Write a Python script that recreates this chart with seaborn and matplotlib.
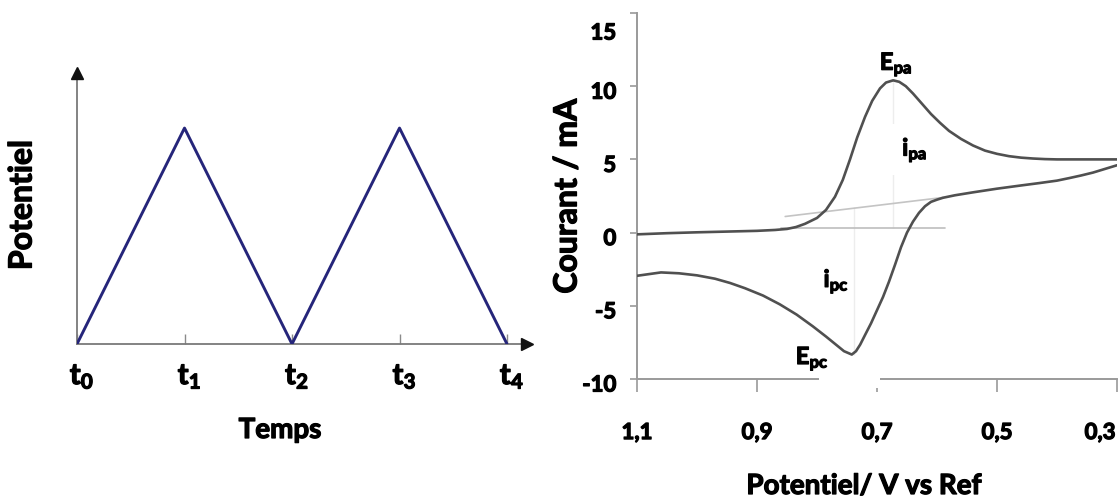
import numpy as np
import pandas as pd
import matplotlib
matplotlib.use("Agg")
import matplotlib.pyplot as plt
import matplotlib.transforms as mtransforms
import matplotlib.patheffects as pe
from matplotlib.patches import Rectangle
import seaborn as sns

# ---------------- data: left panel (triangular potential sweep) ----------------
sweep_times = [0, 1, 2, 3, 4]
sweep_potential = [0, 1, 0, 1, 0]
sweep_tick_labels = [r'$\mathbf{t_0}$', r'$\mathbf{t_1}$', r'$\mathbf{t_2}$',
                     r'$\mathbf{t_3}$', r'$\mathbf{t_4}$']

# ---------------- data: right panel (cyclic voltammogram) ----------------
forward_V = [1.10, 1.05, 1.00, 0.95, 0.90, 0.87, 0.85, 0.835, 0.82, 0.81, 0.80,
             0.785, 0.77, 0.757, 0.745, 0.733, 0.72, 0.708, 0.695, 0.685, 0.673,
             0.663, 0.652, 0.64, 0.625, 0.61, 0.595, 0.58, 0.56, 0.54, 0.52,
             0.50, 0.48, 0.46, 0.44, 0.42, 0.40, 0.35, 0.30]
forward_I = [-0.12, -0.04, 0.02, 0.07, 0.12, 0.18, 0.25, 0.38, 0.6, 0.8, 1.0,
             1.55, 2.45, 3.6, 5.0, 6.5, 7.9, 9.0, 9.85, 10.25, 10.4,
             10.3, 10.0, 9.5, 8.8, 8.1, 7.5, 6.95, 6.4, 5.95, 5.6,
             5.38, 5.22, 5.12, 5.06, 5.02, 5.0, 5.0, 5.0]
reverse_V = [0.30, 0.32, 0.34, 0.36, 0.38, 0.40, 0.43, 0.46, 0.50, 0.54, 0.57,
             0.59, 0.60, 0.61, 0.62, 0.63, 0.64, 0.65, 0.66, 0.67, 0.68, 0.69,
             0.70, 0.71, 0.72, 0.728, 0.735, 0.742, 0.755, 0.767, 0.785, 0.807,
             0.834, 0.862, 0.89, 0.92, 0.945, 0.97, 1.00, 1.03, 1.06, 1.10]
reverse_I = [4.6, 4.35, 4.1, 3.9, 3.72, 3.55, 3.38, 3.22, 3.0, 2.75, 2.55,
             2.38, 2.25, 2.1, 1.8, 1.35, 0.75, 0.0, -1.0, -2.2, -3.35, -4.4,
             -5.3, -6.2, -7.0, -7.65, -8.1, -8.33, -8.1, -7.7, -7.1, -6.4,
             -5.6, -4.9, -4.3, -3.8, -3.44, -3.15, -2.92, -2.78, -2.72, -2.95]

baseline_flat_V = [0.86, 0.587]
baseline_flat_I = [0.3, 0.3]
baseline_slope_V = [0.853, 0.59]
baseline_slope_I = [1.1, 2.4]
epa_line_V = [0.673, 0.673]
epa_line_I = [0.3, 10.4]
epc_line_V = [0.739, 0.739]
epc_line_I = [1.75, -8.33]

cv_x_ticks = [1.1, 0.9, 0.7, 0.5, 0.3]
cv_x_tick_labels = ['1,1', '0,9', '0,7', '0,5', '0,3']
cv_y_ticks = [-10, -5, 0, 5, 10, 15]
cv_y_tick_labels = ['-10', '-5', '0', '5', '10', '15']

peak_labels = [r'$\mathbf{E_{pa}}$', r'$\mathbf{i_{pa}}$', r'$\mathbf{i_{pc}}$', r'$\mathbf{E_{pc}}$']
peak_label_V = [0.668, 0.637, 0.768, 0.808]
peak_label_I = [11.5, 5.67, -3.3, -8.6]

# ---------------- style ----------------
sns.set_theme(style='white')
plt.rcParams['font.family'] = ['Lato', 'DejaVu Sans']
plt.rcParams['font.weight'] = 'bold'
plt.rcParams['mathtext.fontset'] = 'custom'
plt.rcParams['mathtext.bf'] = 'Lato:bold'
plt.rcParams['mathtext.rm'] = 'Lato:bold'
plt.rcParams['mathtext.it'] = 'Lato:bold'

W, H = 1119, 501
fig = plt.figure(figsize=(W / 100, H / 100), dpi=100)
fig.patch.set_facecolor('white')

def px_axes(l, t, r, b):
    return fig.add_axes([l / W, 1 - b / H, (r - l) / W, (b - t) / H])

# ---------------- left panel ----------------
axL = px_axes(77, 73, 527, 344)
sweep_df = pd.DataFrame({'t': sweep_times, 'E': sweep_potential})
sns.lineplot(data=sweep_df, x='t', y='E', ax=axL, color='#25257a', lw=2.1, sort=False)
axL.set_xlim(0, 4.186)
axL.set_ylim(0, 1.255)
for s in ['top', 'right']:
    axL.spines[s].set_visible(False)
for s in ['left', 'bottom']:
    axL.spines[s].set_color('#7a7a7a')
    axL.spines[s].set_linewidth(1.3)
    axL.spines[s].set_zorder(1)
axL.plot(1, 0, marker='>', color='#111111', ms=8, transform=axL.get_yaxis_transform(), clip_on=False)
axL.plot(0, 1, marker='^', color='#111111', ms=8, transform=axL.get_xaxis_transform(), clip_on=False)
axL.set_xticks(sweep_times)
axL.set_xticklabels(sweep_tick_labels)
axL.set_yticks([])
axL.tick_params(axis='x', bottom=True, direction='in', length=7, width=1.0, color='#8a8a8a',
                pad=13, labelsize=21, labelcolor='black')
axL.set_xlabel('')
axL.set_ylabel('')
offL = mtransforms.ScaledTranslation(5 / 100, 0, fig.dpi_scale_trans)
for lab in axL.get_xticklabels():
    lab.set_transform(lab.get_transform() + offL)

fig.text(22 / W, 1 - 205 / H, 'Potentiel', rotation=90, ha='center', va='center',
         fontsize=23, fontweight='bold', color='black')
fig.text(280 / W, 1 - 430 / H, 'Temps', ha='center', va='center',
         fontsize=20, fontweight='bold', color='black')

# ---------------- right panel ----------------
axR = px_axes(637, 13, 1117, 379)
gcol = '#a8a8a8'
sns.lineplot(x=baseline_flat_V, y=baseline_flat_I, ax=axR, color='#bdbdbd', lw=1.2, sort=False, zorder=2)
sns.lineplot(x=baseline_slope_V, y=baseline_slope_I, ax=axR, color='#c4c4c4', lw=1.2, sort=False, zorder=2)
sns.lineplot(x=epa_line_V, y=epa_line_I, ax=axR, color=gcol, lw=1.0, sort=False, zorder=2)
sns.lineplot(x=epc_line_V, y=epc_line_I, ax=axR, color=gcol, lw=1.0, sort=False, zorder=2)
sns.lineplot(x=forward_V, y=forward_I, ax=axR, color='#505050', lw=1.9, sort=False, zorder=4)
sns.lineplot(x=reverse_V, y=reverse_I, ax=axR, color='#505050', lw=1.9, sort=False, zorder=4)

axR.set_xlim(1.1, 0.3)
axR.set_ylim(-10, 15)
for s in ['top', 'right']:
    axR.spines[s].set_visible(False)
for s in ['left', 'bottom']:
    axR.spines[s].set_color('#9a9a9a')
    axR.spines[s].set_linewidth(1.4)
axR.set_xticks(cv_x_ticks)
axR.set_xticklabels(cv_x_tick_labels)
axR.set_yticks(cv_y_ticks)
axR.set_yticklabels(cv_y_tick_labels)
axR.tick_params(axis='x', bottom=True, direction='out', length=9, width=1.2, color='#9a9a9a',
                pad=22, labelsize=16, labelcolor='black')
axR.tick_params(axis='y', left=True, direction='out', length=5, width=1.2, color='#9a9a9a',
                pad=10, labelsize=16, labelcolor='black')
axR.set_xlabel('')
axR.set_ylabel('')
for lab in axR.get_yticklabels():
    dy = -18 if lab.get_text() == '15' else -4
    lab.set_transform(lab.get_transform() + mtransforms.ScaledTranslation(0, dy / 100, fig.dpi_scale_trans))
for lab in axR.get_xticklabels():
    if lab.get_text() == '0,3':
        lab.set_transform(lab.get_transform() + mtransforms.ScaledTranslation(-17 / 100, 0, fig.dpi_scale_trans))

for txt, v, i in zip(peak_labels, peak_label_V, peak_label_I):
    if 'i_{pa}' in txt:
        axR.text(v, i, txt, ha='center', va='center', fontsize=17, color='black', zorder=3,
                 bbox=dict(boxstyle='square,pad=0.45', fc='white', ec='none'))
    else:
        axR.text(v, i, txt, ha='center', va='center', fontsize=17, color='black', zorder=5)

# white patch behind E_pc label interrupting the axis line
axR.add_patch(Rectangle((0.797, -10.6), -0.102, 1.55, transform=axR.transData,
                        facecolor='white', edgecolor='none', clip_on=False, zorder=3))

fig.text(567 / W, 1 - 196 / H, 'Courant / mA', rotation=90, ha='center', va='center',
         fontsize=23, fontweight='bold', color='black')
fig.text(864 / W, 1 - 486 / H, 'Potentiel/ V vs Ref', ha='center', va='center',
         fontsize=20, fontweight='bold', color='black')

# thicken all glyphs slightly to match the heavy bold of the original
heavy = [pe.withStroke(linewidth=0.9, foreground='black')]
for t in fig.findobj(matplotlib.text.Text):
    if t.get_text():
        t.set_path_effects(heavy)

fig.savefig('out.png', dpi=100, facecolor='white')
